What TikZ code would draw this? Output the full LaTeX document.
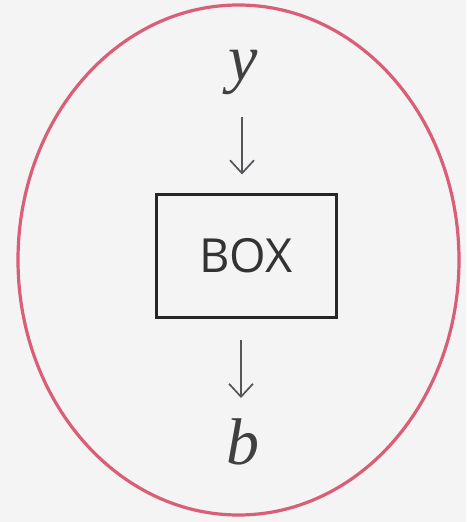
\documentclass[tikz,border=0pt]{standalone}
\usepackage{fontspec}
\setmainfont{Liberation Serif}
\newfontfamily\boxfont{Open Sans}
\usetikzlibrary{arrows.meta}
\definecolor{ringred}{RGB}{218,95,118}
\definecolor{bgc}{RGB}{243,244,243}
\definecolor{arrgray}{RGB}{85,85,90}
\tikzset{
  ring/.style={draw=ringred, line width=3.2pt},
  boxnode/.style={draw=black!85, line width=3pt, minimum width=180pt, minimum height=123pt, inner sep=0pt, font=\boxfont\fontsize{47}{50}\selectfont, text=black!80},
  letter/.style={font=\itshape\fontsize{66}{70}\selectfont, text=black!75, inner sep=0pt},
  flow/.style={draw=arrgray, line width=1.7pt, -{Straight Barb[length=13pt,width=24pt,line width=1.7pt]}}
}
\begin{document}
\begin{tikzpicture}[x=1pt,y=-1pt]
  \fill[bgc] (0,0) rectangle (466,522);
  \useasboundingbox (0,0) rectangle (466,522);
  \draw[ring] (238.5,260) ellipse [x radius=220.5, y radius=255];
  \node[boxnode] (box) at (246,255.5) {BOX};
  \node[letter, anchor=base] (ylab) at (243,80) {y};
  \node[letter, anchor=base] (blab) at (243,464) {b};
  \draw[flow, shorten <=23pt, shorten >=18pt] ([xshift=-1pt]ylab.south) -- ([xshift=-1pt]ylab.south |- box.north);
  \draw[flow, shorten <=21pt, shorten >=20pt] ([xshift=-2pt]blab.north |- box.south) -- ([xshift=-2pt]blab.north);
\end{tikzpicture}
\end{document}
